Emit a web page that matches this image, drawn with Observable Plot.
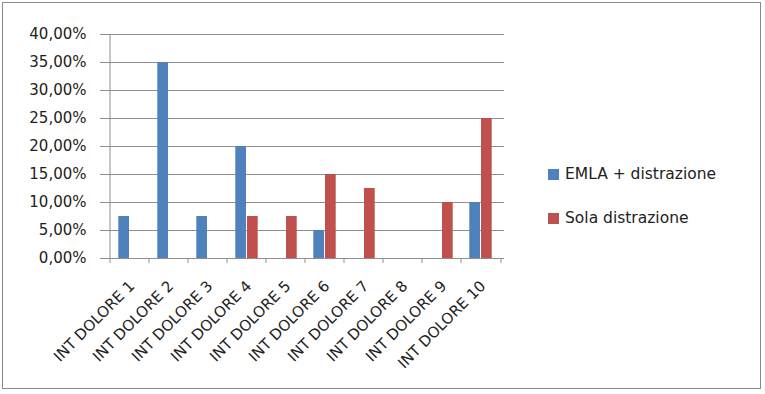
<!DOCTYPE html>
<html>
<head>
<meta charset="utf-8">
<script src="https://cdn.jsdelivr.net/npm/d3@7"></script>
<script src="https://cdn.jsdelivr.net/npm/@observablehq/plot@0.6"></script>
<style>
  html, body { margin: 0; padding: 0; background: #fff; }
  #wrap { position: relative; width: 765px; height: 394px; overflow: hidden; }
  #border { position: absolute; left: 2px; top: 2px; width: 757px; height: 385px; border: 1.5px solid #8a8a8a; pointer-events: none; }
  #legend { position: absolute; left: 548px; top: 160px; font-family: "DejaVu Sans", sans-serif; font-size: 15.5px; color: #222; }
  .item { display: flex; align-items: center; height: 28px; margin-bottom: 16px; }
  .sw { width: 11px; height: 11px; margin-right: 6px; }
</style>
</head>
<body>
<div id="wrap">
  <div id="chart"></div>
  <div id="legend"></div>
  <div id="border"></div>
</div>
<script>
const categories = ["INT DOLORE 1","INT DOLORE 2","INT DOLORE 3","INT DOLORE 4","INT DOLORE 5","INT DOLORE 6","INT DOLORE 7","INT DOLORE 8","INT DOLORE 9","INT DOLORE 10"];
const seriesNames = ["EMLA + distrazione", "Sola distrazione"];
const emla = [7.5, 35, 7.5, 20, 0, 5, 0, 0, 0, 10];
const sola = [0, 0, 0, 7.5, 7.5, 15, 12.5, 0, 10, 25];
const yTicks = [0, 5, 10, 15, 20, 25, 30, 35, 40];
const colors = ["#4F81BD", "#C0504D"];

const emlaRows = categories.map((c, i) => ({cat: c, value: emla[i]}));
const solaRows = categories.map((c, i) => ({cat: c, value: sola[i]}));
const fmt = d => d.toFixed(2).replace(".", ",") + "%";

const chart = Plot.plot({
  width: 765,
  height: 394,
  marginLeft: 105,
  marginRight: 261,
  marginTop: 34,
  marginBottom: 136,
  style: {fontFamily: "DejaVu Sans, sans-serif", color: "#222", background: "transparent"},
  x: {domain: categories, padding: 0, axis: null},
  y: {domain: [0, 40], axis: null},
  marks: [
    Plot.ruleY(yTicks, {stroke: "#8e8e8e", strokeWidth: 1}),
    Plot.ruleX([categories[0]], {dx: -20, stroke: "#8e8e8e"}),
    Plot.barY(emlaRows, {x: "cat", y: "value", fill: colors[0], insetLeft: 8.3, insetRight: 20}),
    Plot.barY(solaRows, {x: "cat", y: "value", fill: colors[1], insetLeft: 20, insetRight: 8.3}),
    Plot.axisY(yTicks, {label: null, tickSize: 5, tickPadding: 14, tickFormat: fmt, fontSize: 15, stroke: "#8e8e8e", fill: "#222"}),
    Plot.axisX(categories, {label: null, tickSize: 5, tickFormat: () => "", dx: -20, stroke: "#8e8e8e"}),
    Plot.axisX([categories[categories.length - 1]], {label: null, tickSize: 5, tickFormat: () => "", dx: 20, stroke: "#8e8e8e"}),
    Plot.axisX(categories, {label: null, tickSize: 0, tickPadding: 25, tickRotate: -45, fontSize: 15, fill: "#222", textAnchor: "end", dx: 2})
  ]
});
document.getElementById("chart").appendChild(chart);

const legend = document.getElementById("legend");
seriesNames.forEach((name, i) => {
  const item = document.createElement("div");
  item.className = "item";
  const sw = document.createElement("div");
  sw.className = "sw";
  sw.style.background = colors[i];
  const label = document.createElement("span");
  label.textContent = name;
  item.appendChild(sw);
  item.appendChild(label);
  legend.appendChild(item);
});
</script>
</body>
</html>
